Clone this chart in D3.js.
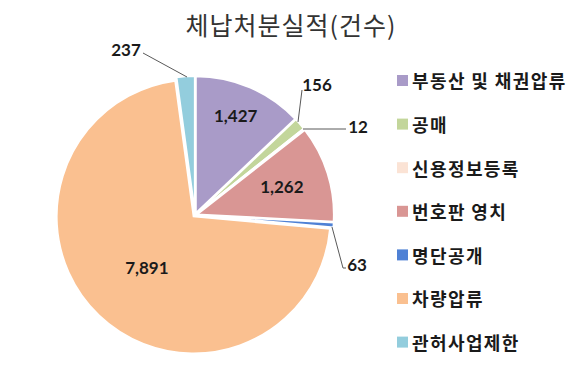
<html>
<head>
<meta charset="utf-8">
<style>
  body { margin: 0; background: #fff; }
  text { font-family: "Noto Sans CJK KR", "Noto Sans", sans-serif; }
  .num { font-family: Lato, "Noto Sans", sans-serif; font-weight: bold; font-size: 17px; fill: #1a1a1a; }
</style>
</head>
<body>
<script src="https://d3js.org/d3.v7.min.js"></script>
<div id="chart"></div>
<script>
// data
var categories = ["부동산 및 채권압류", "공매", "신용정보등록", "번호판 영치", "명단공개", "차량압류", "관허사업제한"];
var values = [1427, 156, 12, 1262, 63, 7891, 237];
var colors = ["#a99bc8", "#c3d69b", "#fbe3d5", "#d99694", "#4f81d5", "#fac090", "#93cddd"];

var width = 580, height = 389;
var cx = 195, cy = 215, r = 137;

var svg = d3.select("#chart").append("svg")
    .attr("width", width)
    .attr("height", height);

svg.append("text")
    .attr("x", 291).attr("y", 35)
    .attr("text-anchor", "middle")
    .style("font-size", "25px")
    .style("letter-spacing", "1px")
    .style("fill", "#333")
    .text("체납처분실적(건수)");

var data = categories.map(function(c, i) { return {name: c, value: values[i], color: colors[i]}; });

var pie = d3.pie().sort(null).value(function(d) { return d.value; });
var arcs = pie(data);
var arc = d3.arc().innerRadius(0).outerRadius(r);

var g = svg.append("g").attr("transform", "translate(" + cx + "," + cy + ")");

// slices, pulled out a little
g.selectAll("path.slice")
  .data(arcs)
  .enter().append("path")
    .attr("class", "slice")
    .attr("d", arc)
    .attr("transform", function(d) {
        var a = (d.startAngle + d.endAngle) / 2;
        return "translate(" + (2 * Math.sin(a)) + "," + (-2 * Math.cos(a)) + ")";
    })
    .style("fill", function(d) { return d.data.color; })
    .style("stroke", "#fff")
    .style("stroke-width", 2);

var fmt = d3.format(",");

// inside labels
var inside = {0: 0.79, 3: 0.68, 5: 0.54};
g.selectAll("text.inlab")
  .data(arcs.filter(function(d, i) { return inside[i] !== undefined; }))
  .enter().append("text")
    .attr("class", "num")
    .attr("x", function(d) { var a = (d.startAngle + d.endAngle) / 2; return Math.sin(a) * r * inside[d.index] + (d.index == 5 ? 3 : -2); })
    .attr("y", function(d) { var a = (d.startAngle + d.endAngle) / 2; return -Math.cos(a) * r * inside[d.index]; })
    .attr("dy", "0.35em")
    .attr("text-anchor", "middle")
    .text(function(d) { return fmt(d.data.value); });

// outside labels with leader lines (label position relative to center)
var outside = {
  1: {lx: 122, ly: -130, line: [[107, -125], [103, -93]]},
  2: {lx: 163, ly: -88, line: [[151, -86], [108, -86]]},
  4: {lx: 162, ly: 50, line: [[151, 53], [148, 53], [137, 12]]},
  6: {lx: -69, ly: -165, line: [[-52, -162], [-8, -138]]}
};
arcs.forEach(function(d, i) {
  var o = outside[i];
  if (!o) return;
  g.append("path")
    .attr("d", d3.line()(o.line))
    .style("fill", "none")
    .style("stroke", "#595959")
    .style("stroke-width", 1);
  g.append("text")
    .attr("class", "num")
    .attr("x", o.lx).attr("y", o.ly)
    .attr("dy", "0.35em")
    .attr("text-anchor", "middle")
    .text(fmt(d.data.value));
});

// legend
var legend = svg.append("g").attr("transform", "translate(397,81)");
var item = legend.selectAll("g")
  .data(data)
  .enter().append("g")
    .attr("transform", function(d, i) { return "translate(0," + (i * 43.6) + ")"; });
item.append("rect")
    .attr("x", 0).attr("y", -6)
    .attr("width", 11).attr("height", 11)
    .style("fill", function(d) { return d.color; });
item.append("text")
    .attr("x", 15).attr("y", 1)
    .attr("dy", "0.35em")
    .style("font-size", "18px")
    .style("font-weight", "bold")
    .style("letter-spacing", "1.4px")
    .style("fill", "#1a1a1a")
    .text(function(d) { return d.name; });
</script>
</body>
</html>
